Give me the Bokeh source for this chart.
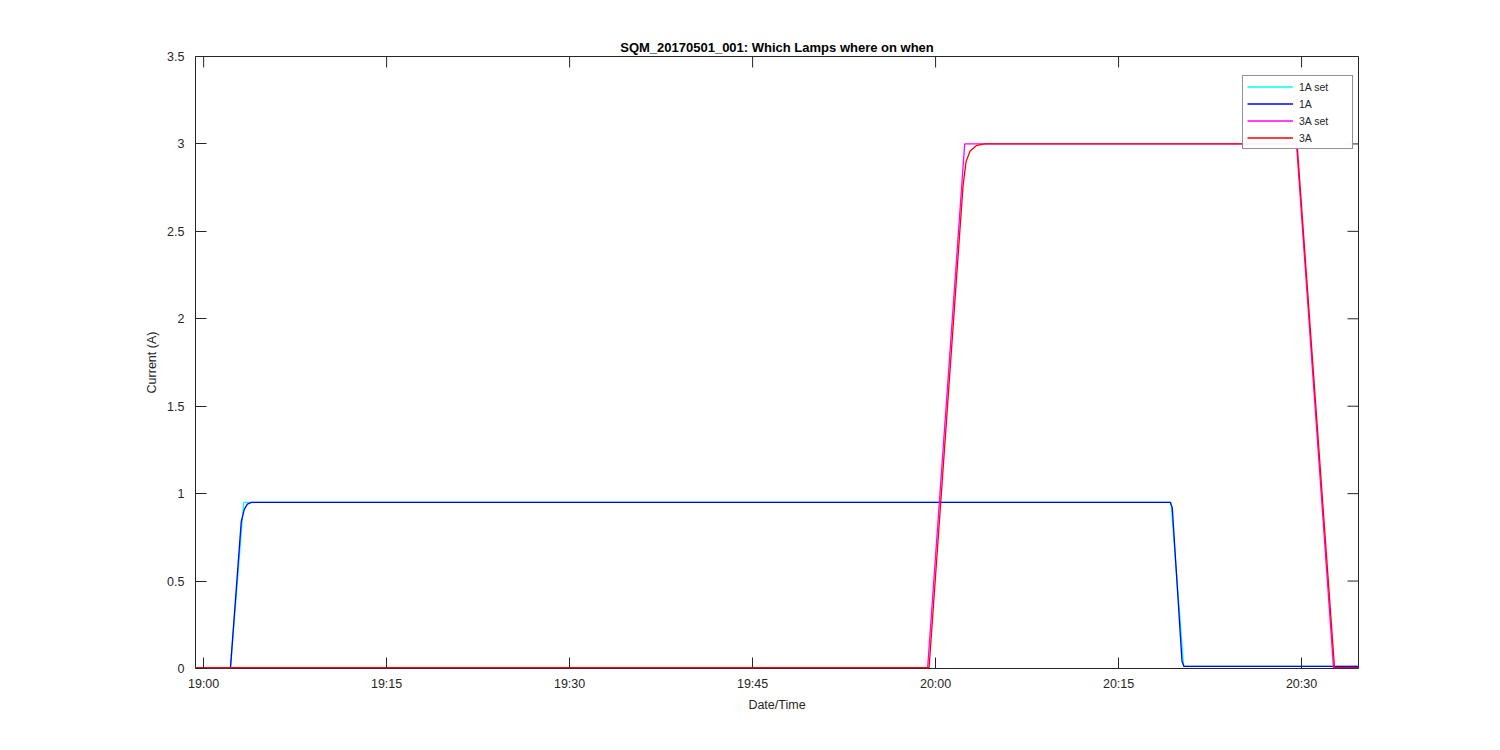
import math
import pandas as pd
from bokeh.plotting import figure
from bokeh.models import (DatetimeAxis, LinearAxis, FixedTicker, DatetimeTickFormatter,
                          Range1d, Legend, LegendItem)
from bokeh.embed import file_html
from bokeh.resources import INLINE

DAY = "2017-05-01 "

# --- data (times of day, currents in A) ---
t_1a_set = ["18:59:20", "19:02:12", "19:03:17", "20:19:18", "20:20:20", "20:34:40"]
v_1a_set = [0.005, 0.005, 0.95, 0.95, 0.012, 0.012]

t_1a = ["18:59:20", "19:02:12", "19:03:05", "19:03:20", "19:03:35", "19:03:55",
        "20:19:14", "20:19:24", "20:20:12", "20:20:22", "20:34:40"]
v_1a = [0.005, 0.005, 0.84, 0.91, 0.94, 0.95,
        0.95, 0.92, 0.04, 0.012, 0.012]

t_3a_set = ["18:59:20", "19:59:21", "20:02:23", "20:29:35", "20:32:37", "20:34:40"]
v_3a_set = [0.005, 0.005, 3.0, 3.0, 0.005, 0.005]

t_3a = ["18:59:20", "19:59:28", "20:02:15", "20:02:30", "20:02:50", "20:03:20", "20:04:00",
        "20:29:38", "20:32:42", "20:34:40"]
v_3a = [0.005, 0.005, 2.76, 2.90, 2.96, 2.99, 3.0,
        3.0, 0.005, 0.005]

x_tick_labels = ["19:00", "19:15", "19:30", "19:45", "20:00", "20:15", "20:30"]
y_ticks = [0, 0.5, 1, 1.5, 2, 2.5, 3, 3.5]
x_start, x_end = "18:59:20", "20:34:40"
y_start, y_end = 0, 3.5

series = [
    ("1A set", t_1a_set, v_1a_set, "#00FFFF"),
    ("1A", t_1a, v_1a, "#0000FF"),
    ("3A set", t_3a_set, v_3a_set, "#FF00FF"),
    ("3A", t_3a, v_3a, "#FF0000"),
]

def ts(s):
    return pd.Timestamp(DAY + s)

def ms(s):
    return ts(s).value // 10**6

FONT = "Liberation Sans"
INK = "#262626"
TICK_LEN = 11

p = figure(width=1492, height=742, output_backend="svg", toolbar_location=None,
           x_axis_type=None, y_axis_type=None,
           frame_width=1163, frame_height=612,
           min_border_left=195, min_border_right=134, min_border_top=56, min_border_bottom=74,
           x_range=Range1d(ts(x_start), ts(x_end)), y_range=Range1d(y_start, y_end))
p.background_fill_color = "white"
p.border_fill_color = "white"
p.outline_line_color = INK
p.outline_line_width = 1
p.xgrid.visible = False
p.ygrid.visible = False

x_tick_times = [ts(l + ":00") for l in x_tick_labels]
xticker = FixedTicker(ticks=[ms(l + ":00") for l in x_tick_labels])
xfmt = DatetimeTickFormatter(minutes="%H:%M", hours="%H:%M", hourmin="%H:%M",
                             minsec="%H:%M", seconds="%H:%M")
yticker = FixedTicker(ticks=y_ticks)

def style(ax):
    ax.major_tick_in = TICK_LEN
    ax.major_tick_out = 0
    ax.minor_tick_in = 0
    ax.minor_tick_out = 0
    ax.axis_line_color = None
    ax.major_tick_line_color = INK
    ax.major_label_text_font = FONT
    ax.major_label_text_font_size = "12.5px"
    ax.major_label_text_color = INK
    ax.axis_label_text_font = FONT
    ax.axis_label_text_font_size = "12.5px"
    ax.axis_label_text_font_style = "normal"
    ax.axis_label_text_color = INK

xb = DatetimeAxis(ticker=xticker, formatter=xfmt, axis_label="Date/Time")
style(xb)
xb.major_label_standoff = 8
xb.axis_label_standoff = 4
p.add_layout(xb, "below")

yl = LinearAxis(ticker=yticker, axis_label="Current (A)")
style(yl)
yl.major_label_standoff = 11
yl.axis_label_standoff = 5
p.add_layout(yl, "left")

# inward ticks on the top and right edges of the box (MATLAB "box on")
p.ray(x=x_tick_times, y=[y_end] * len(x_tick_times), length=TICK_LEN, length_units="screen",
      angle=-math.pi / 2, line_color=INK, line_width=1)
p.ray(x=[ts(x_end)] * len(y_ticks), y=y_ticks, length=TICK_LEN, length_units="screen",
      angle=math.pi, line_color=INK, line_width=1)

items = []
for name, t, v, c in series:
    r = p.line([ts(s) for s in t], v, line_color=c, line_width=1.3)
    items.append(LegendItem(label=name, renderers=[r]))

leg = Legend(items=items, location=(1047, 519))
leg.label_text_font = FONT
leg.label_text_font_size = "10.5px"
leg.label_text_color = INK
leg.glyph_width = 46
leg.glyph_height = 13
leg.label_height = 13
leg.label_width = 49
leg.label_standoff = 6
leg.spacing = 4
leg.padding = 4
leg.margin = 0
leg.border_line_color = INK
leg.border_line_width = 1
leg.background_fill_color = "white"
p.add_layout(leg, "center")

p.title.text = "SQM_20170501_001: Which Lamps where on when"
p.title.align = "center"
p.title.text_font = FONT
p.title.text_font_size = "13px"
p.title.text_font_style = "bold"
p.title.text_color = "black"
p.title.standoff = 4

open("out.html", "w").write(file_html(p, INLINE))
